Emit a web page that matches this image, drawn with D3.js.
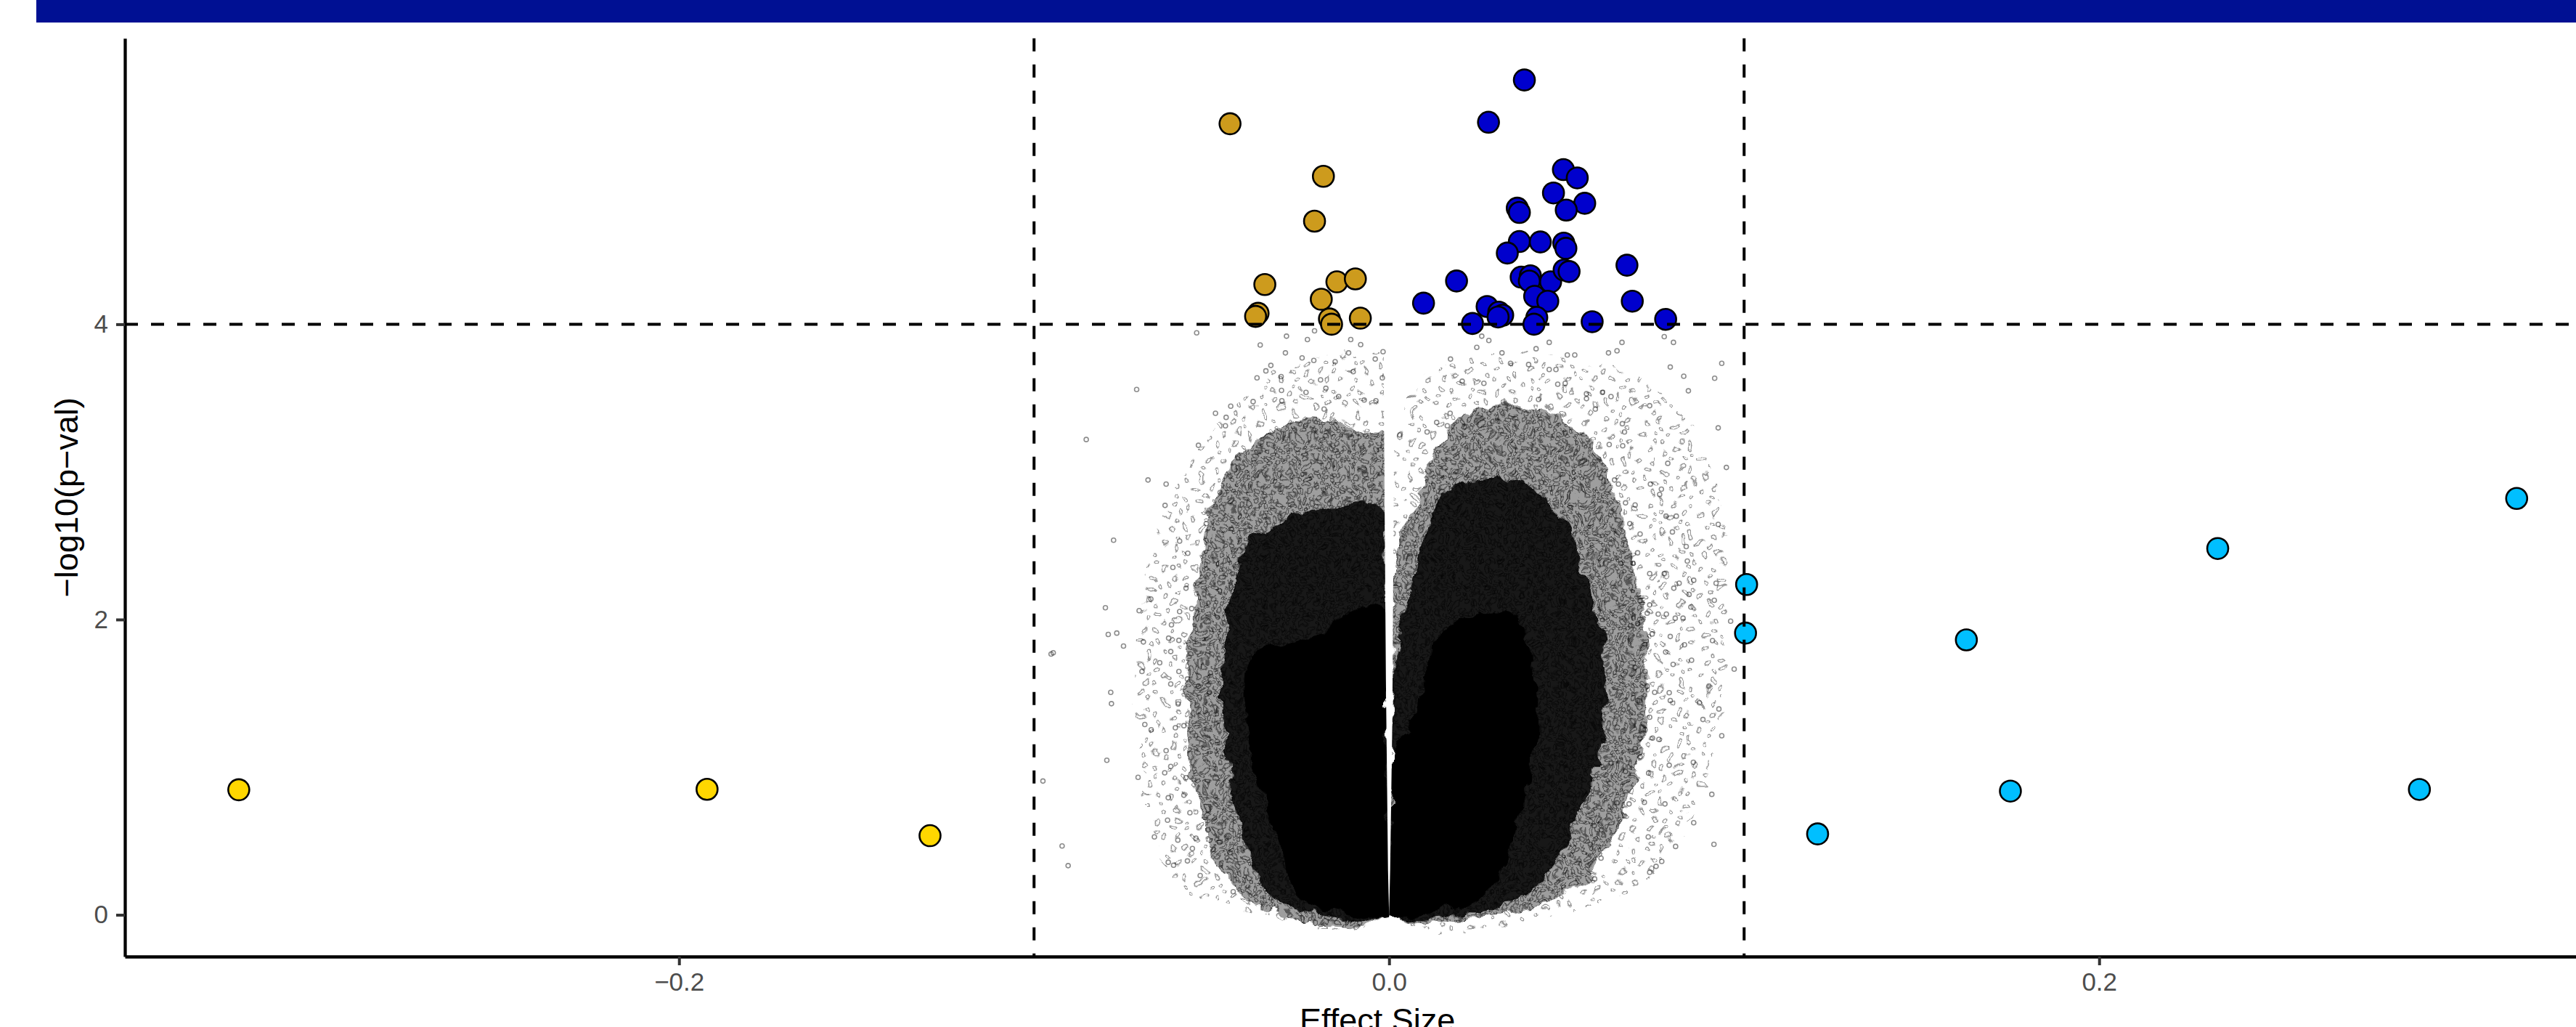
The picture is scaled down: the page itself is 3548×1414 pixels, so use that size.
<!DOCTYPE html>
<html>
<head>
<meta charset="utf-8">
<script src="https://cdn.jsdelivr.net/npm/d3@7"></script>
<style>
  body { margin: 0; background: #fff; }
  svg { display: block; font-family: 'Liberation Sans', Arial, Helvetica, sans-serif; }
</style>
</head>
<body>
<div id="chart"></div>
<script>
let xAxisLabel = 'Effect Size';
let yAxisLabel = '\u2212log10(p\u2212val)';

let xTicks = [-0.2, 0, 0.2];
let yTicks = [0, 2, 4];
let effectCut = 0.1;
let pvalCut = 4;

// highlighted hits: [effect, -log10 p]
let downHits = [
  [-0.0448, 5.358], [-0.0185, 5.002], [-0.021, 4.698], [-0.035, 4.269],
  [-0.0369, 4.074], [-0.0376, 4.053], [-0.0147, 4.287], [-0.0095, 4.307],
  [-0.0191, 4.169], [-0.0168, 4.036], [-0.0162, 4.0], [-0.0081, 4.041]
];
let upHits = [
  [0.0381, 5.654], [0.028, 5.368], [0.0491, 5.047], [0.053, 4.991],
  [0.0463, 4.889], [0.0551, 4.819], [0.0499, 4.773], [0.0361, 4.786],
  [0.0367, 4.757], [0.0367, 4.56], [0.0426, 4.557], [0.0492, 4.549],
  [0.0498, 4.514], [0.0333, 4.482], [0.067, 4.4], [0.0372, 4.319],
  [0.0398, 4.328], [0.0395, 4.292], [0.0455, 4.287], [0.0493, 4.367],
  [0.0507, 4.357], [0.019, 4.293], [0.0097, 4.143], [0.041, 4.189],
  [0.0447, 4.156], [0.0276, 4.12], [0.0309, 4.082], [0.032, 4.061],
  [0.0307, 4.049], [0.0235, 4.005], [0.0416, 4.046], [0.0408, 4.0],
  [0.0572, 4.017], [0.0685, 4.156], [0.0779, 4.033]
];
let lowTail = [[-0.324, 0.847], [-0.1921, 0.85], [-0.1293, 0.536]];
let highTail = [
  [0.3176, 2.82], [0.2334, 2.481], [0.1007, 2.237], [0.1004, 1.908],
  [0.1626, 1.862], [0.175, 0.838], [0.2902, 0.849], [0.1207, 0.548]
];

// background cloud: density outlines of the two lobes
let leftCore = [[0, 0], [-0.0005, 0.79], [-0.0007, 1.527], [-0.0009, 2.05], [-0.0067, 2.08], [-0.0128, 2.0], [-0.019, 1.92], [-0.0251, 1.86], [-0.0312, 1.822], [-0.0373, 1.797], [-0.0402, 1.674], [-0.0398, 1.281], [-0.0373, 0.986], [-0.0343, 0.741], [-0.0312, 0.495], [-0.0281, 0.249], [-0.023, 0.077], [-0.0148, 0.013]];
let leftDense = [[0, 0], [-0.0008, 1.507], [-0.001, 2.353], [-0.0017, 2.748], [-0.0079, 2.804], [-0.0141, 2.748], [-0.0203, 2.748], [-0.0277, 2.692], [-0.0351, 2.607], [-0.0401, 2.522], [-0.0426, 2.297], [-0.045, 2.071], [-0.0463, 1.789], [-0.0469, 1.507], [-0.0463, 1.225], [-0.045, 0.943], [-0.0426, 0.661], [-0.0388, 0.379], [-0.0351, 0.181], [-0.0302, 0.069], [-0.0203, 0.012]];
let leftMid = [[0, 0], [-0.0008, 1.5], [-0.0014, 3.256], [-0.0079, 3.284], [-0.0153, 3.341], [-0.0227, 3.369], [-0.0302, 3.312], [-0.0364, 3.228], [-0.0426, 3.115], [-0.0475, 2.917], [-0.0512, 2.635], [-0.0537, 2.353], [-0.0549, 2.071], [-0.0562, 1.789], [-0.0568, 1.507], [-0.0562, 1.225], [-0.0549, 0.943], [-0.0525, 0.661], [-0.0488, 0.379], [-0.045, 0.21], [-0.0401, 0.097], [-0.0327, 0.012]];
let leftOuter = [[0, 0], [-0.001, 3.75], [-0.0141, 3.8], [-0.0265, 3.75], [-0.0364, 3.6], [-0.0475, 3.35], [-0.0574, 3.0], [-0.0636, 2.7], [-0.0686, 2.212], [-0.0711, 1.648], [-0.0698, 1.084], [-0.0661, 0.52], [-0.0599, 0.238], [-0.0512, 0.097], [-0.0388, 0.012]];
let rightCore = [[0, 0], [0.0006, 0.661], [0.0008, 1.084], [0.0045, 1.225], [0.0095, 1.507], [0.012, 1.789], [0.0144, 1.902], [0.0194, 1.987], [0.0244, 2.043], [0.0293, 2.071], [0.0343, 2.043], [0.038, 1.93], [0.0404, 1.733], [0.0417, 1.507], [0.0417, 1.225], [0.0392, 0.943], [0.0367, 0.661], [0.033, 0.379], [0.0281, 0.181], [0.0219, 0.069], [0.012, 0.012]];
let rightDense = [[0, 0], [0.0008, 0.8], [0.0011, 1.507], [0.0033, 1.93], [0.0082, 2.4], [0.0132, 2.75], [0.0194, 2.9], [0.0293, 2.96], [0.0392, 2.9], [0.0479, 2.7], [0.0541, 2.4], [0.0578, 2.071], [0.0603, 1.789], [0.0615, 1.507], [0.0603, 1.225], [0.0578, 0.943], [0.0528, 0.661], [0.0479, 0.379], [0.0417, 0.21], [0.033, 0.069], [0.0219, 0.012]];
let rightMid = [[0, 0], [0.0009, 1.2], [0.0014, 2.353], [0.0045, 2.65], [0.0107, 3.0], [0.0169, 3.3], [0.0244, 3.42], [0.0355, 3.45], [0.0479, 3.38], [0.0566, 3.2], [0.0628, 2.9], [0.0677, 2.494], [0.0714, 2.071], [0.0727, 1.648], [0.0714, 1.225], [0.0677, 0.802], [0.0615, 0.435], [0.0541, 0.21], [0.0442, 0.069], [0.0293, 0]];
let rightOuter = [[0, 0], [0.002, 3.2], [0.007, 3.55], [0.0169, 3.75], [0.0355, 3.8], [0.0541, 3.75], [0.0727, 3.6], [0.0851, 3.3], [0.0925, 2.85], [0.095, 2.071], [0.0925, 1.225], [0.0851, 0.661], [0.0727, 0.238], [0.0541, 0.04]];

// inner edges of the two lobes (the thin empty wedge at zero effect)
let leftGap = [[-0.0016, 4.2], [-0.0014, 3.256], [-0.0009, 1.6], [-0.0003, 0.3], [0, 0]];
let rightGap = [[0.0016, 4.2], [0.0014, 3.2], [0.0009, 1.3], [0.0003, 0.3], [0, 0]];

// stray grey points outside the lobes
let cloudStray = [
  [-0.0542, 3.942], [-0.0711, 3.558], [-0.0853, 3.219], [-0.0679, 2.945], [-0.0628, 2.917],
  [-0.0631, 2.773], [-0.0776, 2.537], [-0.0537, 3.18], [-0.0515, 2.649], [-0.0609, 2.353],
  [-0.059, 2.531], [-0.0567, 2.449], [-0.0799, 2.08], [-0.0791, 1.899], [-0.0767, 1.908],
  [-0.0748, 1.82], [-0.0704, 2.06], [-0.0671, 2.139], [-0.0692, 1.848], [-0.0646, 1.707],
  [-0.0696, 1.648], [-0.0784, 1.507], [-0.0782, 1.43], [-0.0795, 1.047], [-0.0707, 0.931],
  [-0.0688, 1.289], [-0.067, 1.253], [-0.0628, 1.112], [-0.0632, 0.962], [-0.0622, 0.793],
  [-0.0624, 0.641], [-0.0921, 0.466], [-0.0904, 0.333], [-0.0661, 0.528], [-0.0607, 0.336],
  [-0.0622, 0.356], [-0.0595, 0.506], [-0.0568, 0.365], [-0.0532, 0.266], [-0.0439, 0.156],
  [-0.0594, 1.428], [-0.0602, 1.267], [-0.0578, 1.281], [-0.0615, 1.005], [-0.0572, 0.929],
  [-0.0578, 0.81], [-0.0561, 0.691], [-0.0544, 0.519], [-0.0554, 0.449], [-0.051, 0.576],
  [-0.0478, 0.491], [-0.0448, 0.421], [-0.0592, 1.859], [-0.0613, 1.964], [-0.059, 2.054],
  [-0.0572, 2.212], [-0.0556, 2.074], [-0.0615, 1.783], [-0.0621, 1.874], [-0.0615, 1.563],
  [-0.0592, 1.648], [-0.0568, 1.597], [-0.0537, 1.549], [-0.0506, 1.507], [-0.0489, 3.397],
  [-0.0459, 3.369], [-0.0446, 3.445], [-0.0461, 3.312], [-0.0383, 3.476], [-0.0372, 3.637],
  [-0.0363, 3.859], [-0.0347, 3.684], [-0.0333, 3.721], [-0.0289, 3.919], [-0.0292, 3.806],
  [-0.023, 3.896], [-0.0245, 3.772], [-0.0212, 3.755], [-0.021, 3.955], [-0.0152, 3.746],
  [-0.0114, 3.806], [-0.0108, 3.896], [-0.008, 3.862], [-0.0039, 3.764], [-0.0017, 3.814],
  [-0.0019, 3.637], [-0.0303, 3.552], [-0.0302, 3.482], [-0.0304, 3.645], [-0.0183, 3.425],
  [-0.0193, 3.623], [-0.0178, 3.566], [-0.0142, 3.51], [-0.0101, 3.679], [-0.007, 3.487],
  [-0.0037, 3.482], [-0.0234, 3.538], [-0.0476, 2.861], [-0.0946, 1.775], [-0.0975, 0.906],
  [-0.0952, 1.766],
  [0.0937, 3.735], [0.0917, 3.634], [0.0927, 3.298], [0.083, 3.648], [0.0843, 3.549],
  [0.0792, 3.71], [0.0775, 3.916], [0.0801, 3.877], [0.0734, 3.448], [0.0785, 3.058],
  [0.0736, 2.917], [0.0767, 2.883], [0.0762, 2.847], [0.0927, 2.644], [0.0809, 2.7],
  [0.078, 2.7], [0.0798, 2.593], [0.0837, 2.494], [0.084, 2.396], [0.0775, 2.311],
  [0.0858, 2.266], [0.0921, 2.246], [0.0916, 2.13], [0.0802, 2.212], [0.0817, 2.246],
  [0.0845, 2.17], [0.085, 2.085], [0.0828, 2.009], [0.0806, 2.009], [0.0781, 2.037],
  [0.0758, 2.037], [0.0911, 1.857], [0.0832, 1.829], [0.0792, 1.885], [0.0779, 1.78],
  [0.08, 1.696], [0.0852, 1.724], [0.0901, 1.549], [0.0874, 1.436], [0.0929, 1.394],
  [0.0884, 1.323], [0.0937, 1.213], [0.0789, 1.504], [0.0792, 1.451], [0.076, 1.188],
  [0.0857, 1.033], [0.0789, 1.013], [0.0909, 0.816], [0.0777, 0.751], [0.0858, 0.624],
  [0.0915, 0.477], [0.0807, 0.463], [0.073, 0.528], [0.0768, 0.362], [0.0752, 0.328],
  [0.0734, 0.288], [0.0579, 0.243], [0.0719, 0.762], [0.0676, 0.751], [0.0731, 0.96],
  [0.0721, 1.253], [0.0707, 1.197], [0.0742, 1.197], [0.0693, 1.126], [0.0707, 1.07],
  [0.0734, 1.338], [0.0748, 1.507], [0.0727, 1.549], [0.0666, 0.971], [0.0642, 0.759],
  [0.0598, 0.576], [0.0567, 0.477], [0.0597, 0.384], [0.0578, 0.604], [0.0625, 1.028],
  [0.07, 1.451], [0.0666, 1.648], [0.0693, 1.676], [0.0721, 1.648], [0.0653, 2.381],
  [0.0687, 2.381], [0.07, 2.452], [0.0734, 2.311], [0.0707, 2.127], [0.0734, 2.099],
  [0.068, 1.958], [0.07, 1.972], [0.0727, 2.043], [0.0721, 1.831], [0.0741, 1.902],
  [0.0625, 3.51], [0.0601, 3.538], [0.0556, 3.529], [0.0581, 3.425], [0.062, 3.185],
  [0.0657, 3.326], [0.0663, 3.27], [0.0658, 3.177], [0.0635, 2.945], [0.0646, 2.917],
  [0.0666, 2.79], [0.0693, 2.776], [0.0678, 2.649], [0.0707, 2.579], [0.0618, 3.806],
  [0.0642, 3.82], [0.0656, 3.877], [0.0502, 3.792], [0.0523, 3.792], [0.0451, 3.877],
  [0.0414, 3.834], [0.0451, 3.693], [0.047, 3.693], [0.0393, 3.727], [0.0342, 3.735],
  [0.0318, 3.806], [0.0281, 3.89], [0.0261, 3.919], [0.0247, 3.843], [0.0173, 3.764],
  [0.003, 3.25], [0.0107, 3.27], [0.0134, 3.335], [0.0164, 3.312], [0.0172, 3.397],
  [0.0206, 3.614], [0.0267, 3.6], [0.0421, 3.49], [0.0475, 3.594], [0.0496, 3.6],
  [0.0556, 3.496], [0.095, 3.03], [0.0972, 1.664], [0.0962, 1.989]
];

let hitGroups = [
  { name: 'down', color: '#CD9B1D', points: downHits },
  { name: 'up', color: '#0000CD', points: upHits },
  { name: 'lowTail', color: '#FFD700', points: lowTail },
  { name: 'highTail', color: '#00BFFF', points: highTail }
];
let lobes = [
  { side: 'left', gap: leftGap, layers: [leftOuter, leftMid, leftDense, leftCore] },
  { side: 'right', gap: rightGap, layers: [rightOuter, rightMid, rightDense, rightCore] }
];
let layerLook = [
  { base: 0, rings: 'ringsSparse' },
  { base: 0.38, rings: 'ringsDense' },
  { base: 0.85, rings: null },
  { base: 1, rings: null }
];

let width = 3548, height = 1414;
let panel = { left: 172, top: 52.7, bottom: 1317, unit: 4890 };

let svg = d3
  .select('#chart')
  .append('svg')
  .attr('width', width)
  .attr('height', height);

// ggplot style 5% expansion from everything plotted
let allPts = [].concat(downHits, upHits, lowTail, highTail, cloudStray, leftMid, rightMid);
let xExt = d3.extent(allPts, (d) => d[0]);
let yExt = d3.extent(allPts, (d) => d[1]);
let xPad = (xExt[1] - xExt[0]) * 0.05;
let yPad = (yExt[1] - yExt[0]) * 0.05;

let x = d3
  .scaleLinear()
  .domain([xExt[0] - xPad, xExt[1] + xPad])
  .range([panel.left, panel.left + (xExt[1] - xExt[0] + 2 * xPad) * panel.unit]);

let y = d3
  .scaleLinear()
  .domain([yExt[0] - yPad, yExt[1] + yPad])
  .range([panel.bottom, panel.top]);

// textures for the overplotted cloud
let defs = svg.append('defs');
let addRings = (id, w, h, spots, alpha) => {
  let p = defs
    .append('pattern')
    .attr('id', id)
    .attr('patternUnits', 'userSpaceOnUse')
    .attr('width', w)
    .attr('height', h);
  p.selectAll('circle')
    .data(spots)
    .join('circle')
    .attr('cx', (d) => d[0])
    .attr('cy', (d) => d[1])
    .attr('r', 2.8)
    .attr('fill', 'none')
    .attr('stroke', '#000')
    .attr('stroke-opacity', alpha)
    .attr('stroke-width', 1.5);
};
addRings('ringsSparse', 41, 37, [[5, 6], [24, 3], [33, 21], [14, 27], [36, 33], [20, 16]], 0.4);
addRings('ringsDense', 23, 19, [[3, 4], [14, 2], [9, 11], [20, 13], [5, 16], [17, 8]], 0.45);

let rough = defs
  .append('filter')
  .attr('id', 'rough')
  .attr('x', '-10%')
  .attr('y', '-10%')
  .attr('width', '120%')
  .attr('height', '120%');
rough
  .append('feTurbulence')
  .attr('type', 'fractalNoise')
  .attr('baseFrequency', 0.035)
  .attr('numOctaves', 3)
  .attr('seed', 4)
  .attr('result', 'noise');
rough
  .append('feDisplacementMap')
  .attr('in', 'SourceGraphic')
  .attr('in2', 'noise')
  .attr('scale', 24)
  .attr('xChannelSelector', 'R')
  .attr('yChannelSelector', 'G');

// each lobe is clipped along its inner edge so the wedge at zero stays clean
let lobeLine = d3
  .line()
  .x((d) => x(d[0]))
  .y((d) => y(d[1]))
  .curve(d3.curveCatmullRomClosed.alpha(0.5));

lobes.forEach((lobe) => {
  let outerX = lobe.side === 'left' ? panel.left : width;
  let clip = lobe.gap
    .map((d) => [x(d[0]), y(d[1])])
    .concat([[x(0), panel.bottom], [outerX, panel.bottom], [outerX, panel.top], [x(lobe.gap[0][0]), panel.top]]);
  defs
    .append('clipPath')
    .attr('id', 'clip-' + lobe.side)
    .append('path')
    .attr('d', d3.line()(clip) + 'Z');
});

// title strip
svg
  .append('rect')
  .attr('x', 50)
  .attr('y', 0)
  .attr('width', width - 50)
  .attr('height', 31)
  .attr('fill', '#001093');

// grey cloud
let cloud = svg.append('g').attr('class', 'cloud');
lobes.forEach((lobe) => {
  let inner = cloud
    .append('g')
    .attr('clip-path', `url(#clip-${lobe.side})`)
    .append('g')
    .attr('filter', 'url(#rough)');
  lobe.layers.forEach((shape, i) => {
    let look = layerLook[i];
    if (look.base > 0) {
      inner
        .append('path')
        .attr('d', lobeLine(shape))
        .attr('fill', '#000')
        .attr('fill-opacity', look.base);
    }
    if (look.rings) {
      inner
        .append('path')
        .attr('d', lobeLine(shape))
        .attr('fill', `url(#${look.rings})`);
    }
  });
});

cloud
  .append('g')
  .selectAll('circle')
  .data(cloudStray)
  .join('circle')
  .attr('cx', (d) => x(d[0]))
  .attr('cy', (d) => y(d[1]))
  .attr('r', 3)
  .attr('fill', 'none')
  .attr('stroke', '#000')
  .attr('stroke-opacity', 0.45)
  .attr('stroke-width', 1.6);

// coloured hits
hitGroups.forEach((grp) => {
  svg
    .append('g')
    .attr('class', 'hits ' + grp.name)
    .selectAll('circle')
    .data(grp.points)
    .join('circle')
    .attr('cx', (d) => x(d[0]))
    .attr('cy', (d) => y(d[1]))
    .attr('r', 14.5)
    .attr('fill', grp.color)
    .attr('stroke', '#000')
    .attr('stroke-width', 2.6);
});

// threshold lines
let cuts = svg.append('g').attr('class', 'cuts');
cuts
  .selectAll('line.v')
  .data([-effectCut, effectCut])
  .join('line')
  .attr('class', 'v')
  .attr('x1', (d) => x(d))
  .attr('x2', (d) => x(d))
  .attr('y1', panel.top)
  .attr('y2', panel.bottom);
cuts
  .append('line')
  .attr('x1', panel.left)
  .attr('x2', width)
  .attr('y1', y(pvalCut))
  .attr('y2', y(pvalCut));
cuts
  .selectAll('line')
  .attr('stroke', '#000')
  .attr('stroke-width', 4)
  .attr('stroke-dasharray', '18 18');

// axes
let xAxis = (g) =>
  g
    .attr('transform', `translate(0,${panel.bottom})`)
    .call(
      d3
        .axisBottom(x)
        .tickValues(xTicks)
        .tickFormat(d3.format('.1f'))
        .tickSize(12)
        .tickSizeOuter(0)
        .tickPadding(10)
    );
let yAxis = (g) =>
  g
    .attr('transform', `translate(${panel.left},0)`)
    .call(
      d3
        .axisLeft(y)
        .tickValues(yTicks)
        .tickFormat(d3.format('d'))
        .tickSize(12)
        .tickSizeOuter(0)
        .tickPadding(11)
    );

[xAxis, yAxis].forEach((ax) => {
  let g = svg.append('g').call(ax);
  g.select('.domain').attr('stroke', '#000').attr('stroke-width', 4.3);
  g.selectAll('.tick line').attr('stroke', '#333').attr('stroke-width', 4);
  g.selectAll('.tick text')
    .attr('fill', '#4D4D4D')
    .style('font-size', '35px')
    .style('font-family', "'Liberation Sans', Arial, Helvetica, sans-serif");
});

// axis titles (bottom one runs off the page, as in the source)
svg
  .append('text')
  .attr('x', x(0) - 16)
  .attr('y', 1420)
  .attr('text-anchor', 'middle')
  .style('font-size', '45px')
  .attr('fill', '#000')
  .text(xAxisLabel);

svg
  .append('text')
  .attr('transform', `translate(107,${(panel.top + panel.bottom) / 2}) rotate(-90)`)
  .attr('text-anchor', 'middle')
  .style('font-size', '45px')
  .attr('fill', '#000')
  .text(yAxisLabel);
</script>
</body>
</html>
